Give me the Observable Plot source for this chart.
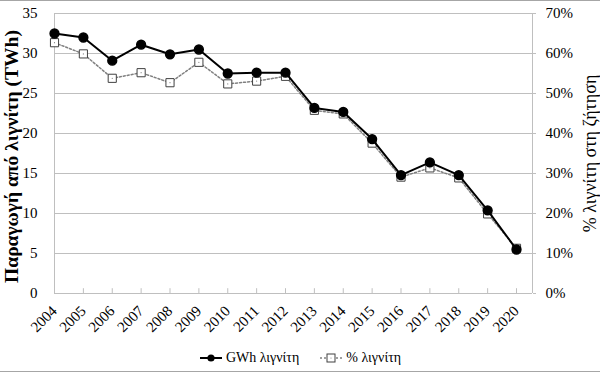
<!DOCTYPE html>
<html><head><meta charset="utf-8">
<script src="https://cdn.jsdelivr.net/npm/d3@7"></script>
<script src="https://cdn.jsdelivr.net/npm/@observablehq/plot@0.6"></script>
<style>
html,body{margin:0;padding:0;background:#fff;}
#wrap{position:relative;width:600px;height:375px;overflow:hidden;font-family:'Liberation Serif',serif;background:#fff;}
#frame{position:absolute;left:0;top:0;width:600px;height:372px;border-top:1px solid #a6a6a6;border-bottom:1px solid #a6a6a6;box-sizing:border-box;pointer-events:none;}
#chart{position:absolute;left:0;top:0;}
#legend{position:absolute;left:0;top:347px;width:600px;height:22px;display:flex;justify-content:center;align-items:center;font-family:'Liberation Serif',serif;font-size:14px;color:#000;}
.item{display:flex;align-items:center;margin:0 6px;font-family:'Liberation Serif',serif;}
.item svg{margin-right:3px;}
</style></head>
<body><div id="wrap"><div id="chart"></div><div id="legend"></div><div id="frame"></div></div>
<script>
const years = [2004,2005,2006,2007,2008,2009,2010,2011,2012,2013,2014,2015,2016,2017,2018,2019,2020];
const gwh = [32.5,32.0,29.1,31.1,29.9,30.5,27.5,27.6,27.6,23.2,22.7,19.3,14.8,16.4,14.8,10.4,5.5];
const pct = [62.7,59.9,53.8,55.2,52.7,57.8,52.4,53.1,54.3,45.8,44.9,37.6,29.1,31.4,28.9,19.9,11.3];
const leftTicks = [0,5,10,15,20,25,30,35];
const rightTickLabels = ["0%","10%","20%","30%","40%","50%","60%","70%"];
const seriesNames = ["GWh λιγνίτη","% λιγνίτη"];
const leftTitle = "Παραγωγή από λιγνίτη (TWh)";
const rightTitle = "% λιγνίτη στη ζήτηση";

const data = years.map((y,i)=>({year:y,gwh:gwh[i],pct:pct[i]}));
const xMax = 2020.554;

const plot = Plot.plot({
  width:600, height:346,
  marginLeft:54, marginRight:68, marginTop:13, marginBottom:53,
  x:{type:"linear", domain:[2004,xMax]},
  y:{domain:[0,35]},
  style:{fontFamily:"'Liberation Serif', serif", fontSize:"15px", color:"#000", background:"transparent"},
  marks:[
    Plot.gridY(leftTicks,{stroke:"#bfbfbf", strokeOpacity:1, strokeWidth:1}),
    Plot.ruleX([2004, xMax],{stroke:"#bfbfbf", strokeWidth:1}),
    Plot.ruleY([0],{stroke:"#bfbfbf", strokeWidth:1}),
    Plot.ruleX(years,{y1:0, y2:0.6, stroke:"#bfbfbf"}),
    Plot.axisY({ticks:leftTicks, tickSize:0, tickPadding:17, label:null, fontSize:15}),
    Plot.axisY({anchor:"right", ticks:leftTicks, tickFormat:(d)=>rightTickLabels[leftTicks.indexOf(d)], tickSize:3, tickPadding:10, stroke:"#bfbfbf", label:null, fontSize:15}),
    Plot.axisX({ticks:years, tickFormat:d=>String(d), tickRotate:-45, tickSize:0, tickPadding:15, label:null, fontSize:15}),
    Plot.text([leftTitle],{frameAnchor:"left", dx:-43, dy:3, rotate:-90, textAnchor:"middle", fontSize:19.5, fontWeight:"bold", text:d=>d}),
    Plot.text([rightTitle],{frameAnchor:"right", dx:58, dy:0, rotate:-90, textAnchor:"middle", fontSize:18, text:d=>d}),
    Plot.line(data,{x:"year", y:d=>d.pct/2, stroke:"#808080", strokeWidth:1.5, strokeDasharray:"2,2"}),
    Plot.dot(data,{x:"year", y:d=>d.pct/2, symbol:"square", r:4.6, fill:"#fff", stroke:"#404040", strokeWidth:1}),
    Plot.dot(data,{x:"year", y:d=>d.pct/2, r:0.6, fill:"#808080"}),
    Plot.line(data,{x:"year", y:"gwh", stroke:"#000", strokeWidth:2}),
    Plot.dot(data,{x:"year", y:"gwh", r:4.4, fill:"#000", stroke:"#000"})
  ]
});
document.getElementById("chart").appendChild(plot);

const legend = document.getElementById("legend");
legend.innerHTML =
  `<div class="item"><svg width="24" height="12"><line x1="1" y1="6" x2="23" y2="6" stroke="#000" stroke-width="2"/><circle cx="12" cy="6" r="3.6" fill="#000"/></svg><span>${seriesNames[0]}</span></div>` +
  `<div class="item" style="margin-left:14px"><svg width="24" height="12"><line x1="1" y1="6" x2="23" y2="6" stroke="#808080" stroke-width="1.5" stroke-dasharray="2,2"/><rect x="8" y="2" width="8" height="8" fill="#fff" stroke="#404040"/><circle cx="12" cy="6" r="0.6" fill="#808080"/></svg><span>${seriesNames[1]}</span></div>`;
</script>
</body></html>
